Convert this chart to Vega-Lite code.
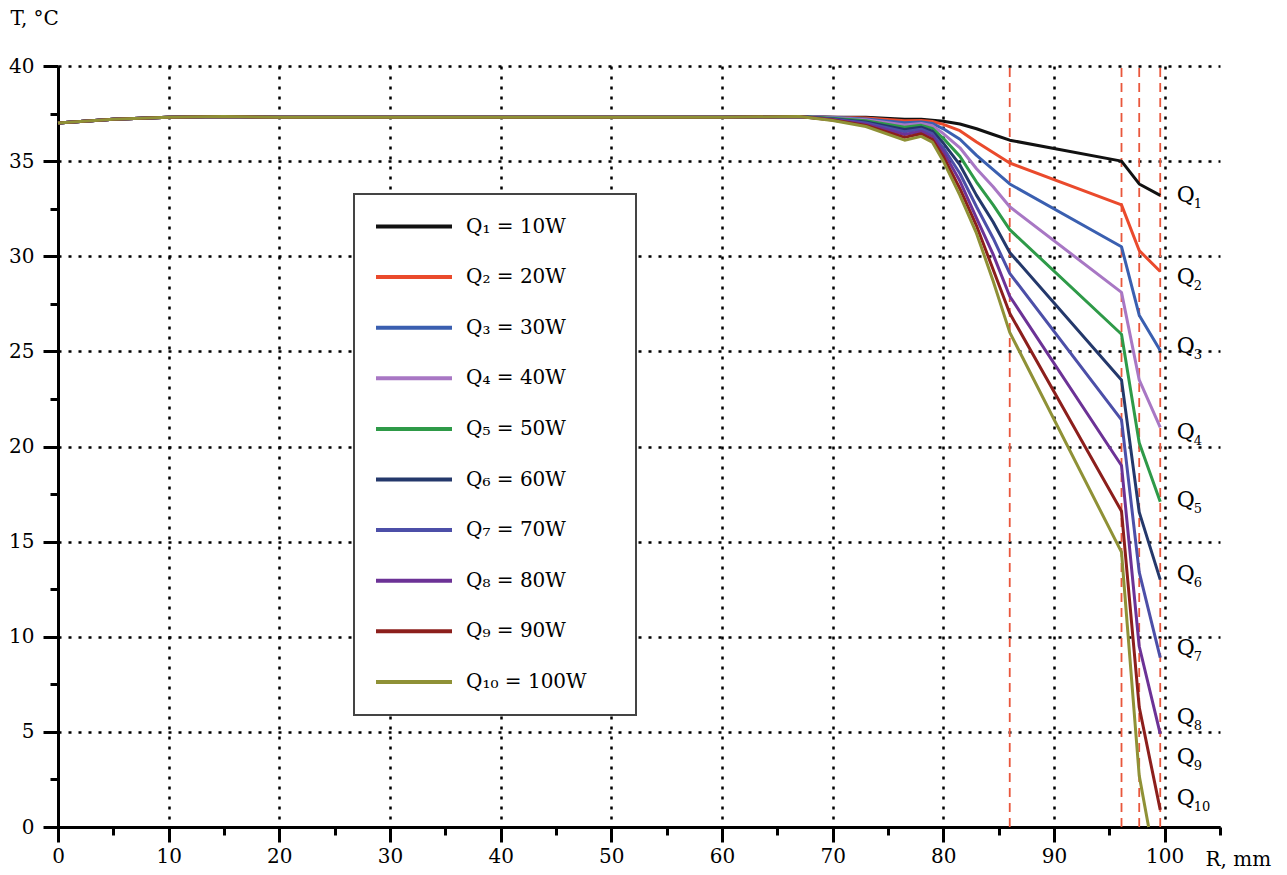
{
  "$schema": "https://vega.github.io/schema/vega-lite/v6.json",
  "width": 1162,
  "height": 761,
  "autosize": {"type": "none"},
  "padding": {"left": 58, "top": 66, "right": 67, "bottom": 48},
  "background": "white",
  "config": {"view": {"stroke": null}, "font": "DejaVu Serif"},
  "datasets": {
    "bounds": [{"r": 86}, {"r": 96.1}, {"r": 97.7}, {"r": 99.6}],
    "labels": [
      {"n": "1", "r": 101.1, "t": 33.2},
      {"n": "2", "r": 101.1, "t": 28.9},
      {"n": "3", "r": 101.1, "t": 25.3},
      {"n": "4", "r": 101.1, "t": 20.75},
      {"n": "5", "r": 101.1, "t": 17.2},
      {"n": "6", "r": 101.1, "t": 13.3},
      {"n": "7", "r": 101.1, "t": 9.4},
      {"n": "8", "r": 101.1, "t": 5.8},
      {"n": "9", "r": 101.1, "t": 3.7},
      {"n": "10", "r": 101.1, "t": 1.5}
    ],
    "curves": [
      {"q": "Q₁ = 10W", "r": 0, "t": 37.0}, {"q": "Q₁ = 10W", "r": 5, "t": 37.2}, {"q": "Q₁ = 10W", "r": 10, "t": 37.3}, {"q": "Q₁ = 10W", "r": 15, "t": 37.35}, {"q": "Q₁ = 10W", "r": 20, "t": 37.3}, {"q": "Q₁ = 10W", "r": 30, "t": 37.3}, {"q": "Q₁ = 10W", "r": 40, "t": 37.3}, {"q": "Q₁ = 10W", "r": 50, "t": 37.3}, {"q": "Q₁ = 10W", "r": 60, "t": 37.3}, {"q": "Q₁ = 10W", "r": 67, "t": 37.35},
      {"q": "Q₁ = 10W", "r": 70, "t": 37.3}, {"q": "Q₁ = 10W", "r": 73, "t": 37.3}, {"q": "Q₁ = 10W", "r": 76.5, "t": 37.2}, {"q": "Q₁ = 10W", "r": 78, "t": 37.2}, {"q": "Q₁ = 10W", "r": 79, "t": 37.15}, {"q": "Q₁ = 10W", "r": 80, "t": 37.1}, {"q": "Q₁ = 10W", "r": 81.5, "t": 36.95}, {"q": "Q₁ = 10W", "r": 83, "t": 36.7}, {"q": "Q₁ = 10W", "r": 84.5, "t": 36.4}, {"q": "Q₁ = 10W", "r": 86, "t": 36.1}, {"q": "Q₁ = 10W", "r": 96.1, "t": 35.0}, {"q": "Q₁ = 10W", "r": 97.7, "t": 33.8}, {"q": "Q₁ = 10W", "r": 99.6, "t": 33.2},

      {"q": "Q₂ = 20W", "r": 0, "t": 37.0}, {"q": "Q₂ = 20W", "r": 5, "t": 37.2}, {"q": "Q₂ = 20W", "r": 10, "t": 37.3}, {"q": "Q₂ = 20W", "r": 15, "t": 37.35}, {"q": "Q₂ = 20W", "r": 20, "t": 37.3}, {"q": "Q₂ = 20W", "r": 30, "t": 37.3}, {"q": "Q₂ = 20W", "r": 40, "t": 37.3}, {"q": "Q₂ = 20W", "r": 50, "t": 37.3}, {"q": "Q₂ = 20W", "r": 60, "t": 37.3}, {"q": "Q₂ = 20W", "r": 67, "t": 37.35},
      {"q": "Q₂ = 20W", "r": 70, "t": 37.3}, {"q": "Q₂ = 20W", "r": 73, "t": 37.27}, {"q": "Q₂ = 20W", "r": 76.5, "t": 37.12}, {"q": "Q₂ = 20W", "r": 78, "t": 37.14}, {"q": "Q₂ = 20W", "r": 79, "t": 37.08}, {"q": "Q₂ = 20W", "r": 80, "t": 36.93}, {"q": "Q₂ = 20W", "r": 81.5, "t": 36.6}, {"q": "Q₂ = 20W", "r": 83, "t": 36.0}, {"q": "Q₂ = 20W", "r": 84.5, "t": 35.45}, {"q": "Q₂ = 20W", "r": 86, "t": 34.9}, {"q": "Q₂ = 20W", "r": 96.1, "t": 32.7}, {"q": "Q₂ = 20W", "r": 97.7, "t": 30.3}, {"q": "Q₂ = 20W", "r": 99.6, "t": 29.2},

      {"q": "Q₃ = 30W", "r": 0, "t": 37.0}, {"q": "Q₃ = 30W", "r": 5, "t": 37.2}, {"q": "Q₃ = 30W", "r": 10, "t": 37.3}, {"q": "Q₃ = 30W", "r": 15, "t": 37.35}, {"q": "Q₃ = 30W", "r": 20, "t": 37.3}, {"q": "Q₃ = 30W", "r": 30, "t": 37.3}, {"q": "Q₃ = 30W", "r": 40, "t": 37.3}, {"q": "Q₃ = 30W", "r": 50, "t": 37.3}, {"q": "Q₃ = 30W", "r": 60, "t": 37.3}, {"q": "Q₃ = 30W", "r": 67, "t": 37.35},
      {"q": "Q₃ = 30W", "r": 70, "t": 37.3}, {"q": "Q₃ = 30W", "r": 73, "t": 37.22}, {"q": "Q₃ = 30W", "r": 76.5, "t": 37.02}, {"q": "Q₃ = 30W", "r": 78, "t": 37.06}, {"q": "Q₃ = 30W", "r": 79, "t": 36.98}, {"q": "Q₃ = 30W", "r": 80, "t": 36.7}, {"q": "Q₃ = 30W", "r": 81.5, "t": 36.15}, {"q": "Q₃ = 30W", "r": 83, "t": 35.3}, {"q": "Q₃ = 30W", "r": 84.5, "t": 34.55}, {"q": "Q₃ = 30W", "r": 86, "t": 33.8}, {"q": "Q₃ = 30W", "r": 96.1, "t": 30.5}, {"q": "Q₃ = 30W", "r": 97.7, "t": 26.9}, {"q": "Q₃ = 30W", "r": 99.6, "t": 25.05},

      {"q": "Q₄ = 40W", "r": 0, "t": 37.0}, {"q": "Q₄ = 40W", "r": 5, "t": 37.2}, {"q": "Q₄ = 40W", "r": 10, "t": 37.3}, {"q": "Q₄ = 40W", "r": 15, "t": 37.35}, {"q": "Q₄ = 40W", "r": 20, "t": 37.3}, {"q": "Q₄ = 40W", "r": 30, "t": 37.3}, {"q": "Q₄ = 40W", "r": 40, "t": 37.3}, {"q": "Q₄ = 40W", "r": 50, "t": 37.3}, {"q": "Q₄ = 40W", "r": 60, "t": 37.3}, {"q": "Q₄ = 40W", "r": 67, "t": 37.35},
      {"q": "Q₄ = 40W", "r": 70, "t": 37.28}, {"q": "Q₄ = 40W", "r": 73, "t": 37.17}, {"q": "Q₄ = 40W", "r": 76.5, "t": 36.9}, {"q": "Q₄ = 40W", "r": 78, "t": 36.98}, {"q": "Q₄ = 40W", "r": 79, "t": 36.86}, {"q": "Q₄ = 40W", "r": 80, "t": 36.45}, {"q": "Q₄ = 40W", "r": 81.5, "t": 35.7}, {"q": "Q₄ = 40W", "r": 83, "t": 34.6}, {"q": "Q₄ = 40W", "r": 84.5, "t": 33.65}, {"q": "Q₄ = 40W", "r": 86, "t": 32.6}, {"q": "Q₄ = 40W", "r": 96.1, "t": 28.1}, {"q": "Q₄ = 40W", "r": 97.7, "t": 23.5}, {"q": "Q₄ = 40W", "r": 99.6, "t": 21.0},

      {"q": "Q₅ = 50W", "r": 0, "t": 37.0}, {"q": "Q₅ = 50W", "r": 5, "t": 37.2}, {"q": "Q₅ = 50W", "r": 10, "t": 37.3}, {"q": "Q₅ = 50W", "r": 15, "t": 37.35}, {"q": "Q₅ = 50W", "r": 20, "t": 37.3}, {"q": "Q₅ = 50W", "r": 30, "t": 37.3}, {"q": "Q₅ = 50W", "r": 40, "t": 37.3}, {"q": "Q₅ = 50W", "r": 50, "t": 37.3}, {"q": "Q₅ = 50W", "r": 60, "t": 37.3}, {"q": "Q₅ = 50W", "r": 67, "t": 37.35},
      {"q": "Q₅ = 50W", "r": 70, "t": 37.25}, {"q": "Q₅ = 50W", "r": 73, "t": 37.12}, {"q": "Q₅ = 50W", "r": 76.5, "t": 36.78}, {"q": "Q₅ = 50W", "r": 78, "t": 36.88}, {"q": "Q₅ = 50W", "r": 79, "t": 36.72}, {"q": "Q₅ = 50W", "r": 80, "t": 36.2}, {"q": "Q₅ = 50W", "r": 81.5, "t": 35.25}, {"q": "Q₅ = 50W", "r": 83, "t": 33.9}, {"q": "Q₅ = 50W", "r": 84.5, "t": 32.7}, {"q": "Q₅ = 50W", "r": 86, "t": 31.4}, {"q": "Q₅ = 50W", "r": 96.1, "t": 25.9}, {"q": "Q₅ = 50W", "r": 97.7, "t": 20.2}, {"q": "Q₅ = 50W", "r": 99.6, "t": 17.1},

      {"q": "Q₆ = 60W", "r": 0, "t": 37.0}, {"q": "Q₆ = 60W", "r": 5, "t": 37.2}, {"q": "Q₆ = 60W", "r": 10, "t": 37.3}, {"q": "Q₆ = 60W", "r": 15, "t": 37.35}, {"q": "Q₆ = 60W", "r": 20, "t": 37.3}, {"q": "Q₆ = 60W", "r": 30, "t": 37.3}, {"q": "Q₆ = 60W", "r": 40, "t": 37.3}, {"q": "Q₆ = 60W", "r": 50, "t": 37.3}, {"q": "Q₆ = 60W", "r": 60, "t": 37.3}, {"q": "Q₆ = 60W", "r": 67, "t": 37.35},
      {"q": "Q₆ = 60W", "r": 70, "t": 37.22}, {"q": "Q₆ = 60W", "r": 73, "t": 37.06}, {"q": "Q₆ = 60W", "r": 76.5, "t": 36.66}, {"q": "Q₆ = 60W", "r": 78, "t": 36.78}, {"q": "Q₆ = 60W", "r": 79, "t": 36.58}, {"q": "Q₆ = 60W", "r": 80, "t": 35.95}, {"q": "Q₆ = 60W", "r": 81.5, "t": 34.8}, {"q": "Q₆ = 60W", "r": 83, "t": 33.2}, {"q": "Q₆ = 60W", "r": 84.5, "t": 31.8}, {"q": "Q₆ = 60W", "r": 86, "t": 30.2}, {"q": "Q₆ = 60W", "r": 96.1, "t": 23.5}, {"q": "Q₆ = 60W", "r": 97.7, "t": 16.55}, {"q": "Q₆ = 60W", "r": 99.6, "t": 13.0},

      {"q": "Q₇ = 70W", "r": 0, "t": 37.0}, {"q": "Q₇ = 70W", "r": 5, "t": 37.2}, {"q": "Q₇ = 70W", "r": 10, "t": 37.3}, {"q": "Q₇ = 70W", "r": 15, "t": 37.35}, {"q": "Q₇ = 70W", "r": 20, "t": 37.3}, {"q": "Q₇ = 70W", "r": 30, "t": 37.3}, {"q": "Q₇ = 70W", "r": 40, "t": 37.3}, {"q": "Q₇ = 70W", "r": 50, "t": 37.3}, {"q": "Q₇ = 70W", "r": 60, "t": 37.3}, {"q": "Q₇ = 70W", "r": 67, "t": 37.35},
      {"q": "Q₇ = 70W", "r": 70, "t": 37.2}, {"q": "Q₇ = 70W", "r": 73, "t": 37.0}, {"q": "Q₇ = 70W", "r": 76.5, "t": 36.54}, {"q": "Q₇ = 70W", "r": 78, "t": 36.68}, {"q": "Q₇ = 70W", "r": 79, "t": 36.44}, {"q": "Q₇ = 70W", "r": 80, "t": 35.7}, {"q": "Q₇ = 70W", "r": 81.5, "t": 34.35}, {"q": "Q₇ = 70W", "r": 83, "t": 32.6}, {"q": "Q₇ = 70W", "r": 84.5, "t": 30.95}, {"q": "Q₇ = 70W", "r": 86, "t": 29.1}, {"q": "Q₇ = 70W", "r": 96.1, "t": 21.4}, {"q": "Q₇ = 70W", "r": 97.7, "t": 13.4}, {"q": "Q₇ = 70W", "r": 99.6, "t": 8.9},

      {"q": "Q₈ = 80W", "r": 0, "t": 37.0}, {"q": "Q₈ = 80W", "r": 5, "t": 37.2}, {"q": "Q₈ = 80W", "r": 10, "t": 37.3}, {"q": "Q₈ = 80W", "r": 15, "t": 37.35}, {"q": "Q₈ = 80W", "r": 20, "t": 37.3}, {"q": "Q₈ = 80W", "r": 30, "t": 37.3}, {"q": "Q₈ = 80W", "r": 40, "t": 37.3}, {"q": "Q₈ = 80W", "r": 50, "t": 37.3}, {"q": "Q₈ = 80W", "r": 60, "t": 37.3}, {"q": "Q₈ = 80W", "r": 67, "t": 37.35},
      {"q": "Q₈ = 80W", "r": 70, "t": 37.18}, {"q": "Q₈ = 80W", "r": 73, "t": 36.94}, {"q": "Q₈ = 80W", "r": 76.5, "t": 36.4}, {"q": "Q₈ = 80W", "r": 78, "t": 36.56}, {"q": "Q₈ = 80W", "r": 79, "t": 36.3}, {"q": "Q₈ = 80W", "r": 80, "t": 35.5}, {"q": "Q₈ = 80W", "r": 81.5, "t": 33.95}, {"q": "Q₈ = 80W", "r": 83, "t": 32.0}, {"q": "Q₈ = 80W", "r": 84.5, "t": 30.1}, {"q": "Q₈ = 80W", "r": 86, "t": 27.9}, {"q": "Q₈ = 80W", "r": 96.1, "t": 19.0}, {"q": "Q₈ = 80W", "r": 97.7, "t": 9.5}, {"q": "Q₈ = 80W", "r": 99.6, "t": 4.9},

      {"q": "Q₉ = 90W", "r": 0, "t": 37.0}, {"q": "Q₉ = 90W", "r": 5, "t": 37.2}, {"q": "Q₉ = 90W", "r": 10, "t": 37.3}, {"q": "Q₉ = 90W", "r": 15, "t": 37.35}, {"q": "Q₉ = 90W", "r": 20, "t": 37.3}, {"q": "Q₉ = 90W", "r": 30, "t": 37.3}, {"q": "Q₉ = 90W", "r": 40, "t": 37.3}, {"q": "Q₉ = 90W", "r": 50, "t": 37.3}, {"q": "Q₉ = 90W", "r": 60, "t": 37.3}, {"q": "Q₉ = 90W", "r": 67, "t": 37.35},
      {"q": "Q₉ = 90W", "r": 70, "t": 37.16}, {"q": "Q₉ = 90W", "r": 73, "t": 36.88}, {"q": "Q₉ = 90W", "r": 76.5, "t": 36.25}, {"q": "Q₉ = 90W", "r": 78, "t": 36.44}, {"q": "Q₉ = 90W", "r": 79, "t": 36.15}, {"q": "Q₉ = 90W", "r": 80, "t": 35.25}, {"q": "Q₉ = 90W", "r": 81.5, "t": 33.55}, {"q": "Q₉ = 90W", "r": 83, "t": 31.6}, {"q": "Q₉ = 90W", "r": 84.5, "t": 29.3}, {"q": "Q₉ = 90W", "r": 86, "t": 27.0}, {"q": "Q₉ = 90W", "r": 96.1, "t": 16.6}, {"q": "Q₉ = 90W", "r": 97.7, "t": 6.3}, {"q": "Q₉ = 90W", "r": 99.6, "t": 0.9},

      {"q": "Q₁₀ = 100W", "r": 0, "t": 37.0}, {"q": "Q₁₀ = 100W", "r": 5, "t": 37.2}, {"q": "Q₁₀ = 100W", "r": 10, "t": 37.3}, {"q": "Q₁₀ = 100W", "r": 15, "t": 37.35}, {"q": "Q₁₀ = 100W", "r": 20, "t": 37.3}, {"q": "Q₁₀ = 100W", "r": 30, "t": 37.3}, {"q": "Q₁₀ = 100W", "r": 40, "t": 37.3}, {"q": "Q₁₀ = 100W", "r": 50, "t": 37.3}, {"q": "Q₁₀ = 100W", "r": 60, "t": 37.3}, {"q": "Q₁₀ = 100W", "r": 67, "t": 37.35},
      {"q": "Q₁₀ = 100W", "r": 70, "t": 37.14}, {"q": "Q₁₀ = 100W", "r": 73, "t": 36.82}, {"q": "Q₁₀ = 100W", "r": 76.5, "t": 36.1}, {"q": "Q₁₀ = 100W", "r": 78, "t": 36.3}, {"q": "Q₁₀ = 100W", "r": 79, "t": 36.0}, {"q": "Q₁₀ = 100W", "r": 80, "t": 35.0}, {"q": "Q₁₀ = 100W", "r": 81.5, "t": 33.2}, {"q": "Q₁₀ = 100W", "r": 83, "t": 31.2}, {"q": "Q₁₀ = 100W", "r": 84.5, "t": 28.7}, {"q": "Q₁₀ = 100W", "r": 86, "t": 26.0}, {"q": "Q₁₀ = 100W", "r": 96.1, "t": 14.45}, {"q": "Q₁₀ = 100W", "r": 97.7, "t": 2.7}, {"q": "Q₁₀ = 100W", "r": 98.55, "t": 0.0}
    ]
  },
  "layer": [
    {
      "data": {"name": "bounds"},
      "mark": {"type": "rule", "color": "#e9573c", "strokeWidth": 1.8, "strokeDash": [9, 6]},
      "encoding": {
        "x": {
          "field": "r", "type": "quantitative",
          "scale": {"domain": [0, 105], "nice": false, "zero": false},
          "axis": {"orient": "bottom", "values": [5, 15, 25, 35, 45, 55, 65, 75, 85, 95, 105], "tickSize": 8, "tickWidth": 3, "tickColor": "black", "labels": false, "domain": false, "grid": false, "title": null}
        },
        "y": {
          "datum": 0, "type": "quantitative",
          "scale": {"domain": [0, 40], "nice": false},
          "axis": {"orient": "left", "values": [2.5, 7.5, 12.5, 17.5, 22.5, 27.5, 32.5, 37.5], "tickSize": 8, "tickWidth": 3, "tickColor": "black", "labels": false, "domain": false, "grid": false, "title": null}
        },
        "y2": {"datum": 40}
      }
    },
    {
      "data": {"name": "curves"},
      "mark": {"type": "line", "strokeWidth": 3, "strokeJoin": "round"},
      "encoding": {
        "x": {
          "field": "r", "type": "quantitative",
          "axis": {
            "orient": "bottom",
            "values": [0, 10, 20, 30, 40, 50, 60, 70, 80, 90, 100],
            "grid": true, "gridColor": "black", "gridDash": [3, 7], "gridWidth": 2.5, "gridOpacity": 1,
            "domainColor": "black", "domainWidth": 3, "tickColor": "black", "tickWidth": 3, "tickSize": 15,
            "labelFont": "DejaVu Serif", "labelFontSize": 20, "labelColor": "black", "labelPadding": 4, "labelFlush": false, "labelOverlap": false,
            "title": "R, mm", "titleX": 1147, "titleY": 32, "titleAlign": "left", "titleBaseline": "middle", "titleAngle": 0,
            "titleFont": "DejaVu Serif", "titleFontSize": 20, "titleFontWeight": "normal", "titleColor": "black"
          }
        },
        "y": {
          "field": "t", "type": "quantitative",
          "axis": {
            "orient": "left",
            "values": [0, 5, 10, 15, 20, 25, 30, 35, 40],
            "grid": true, "gridColor": "black", "gridDash": [3, 7], "gridWidth": 2.5, "gridOpacity": 1,
            "domainColor": "black", "domainWidth": 3, "tickColor": "black", "tickWidth": 3, "tickSize": 15,
            "labelFont": "DejaVu Serif", "labelFontSize": 20, "labelColor": "black", "labelPadding": 9, "labelFlush": false, "labelOverlap": false,
            "title": "T, °C", "titleX": -48, "titleY": -48, "titleAlign": "left", "titleBaseline": "middle", "titleAngle": 0,
            "titleFont": "DejaVu Serif", "titleFontSize": 20, "titleFontWeight": "normal", "titleColor": "black"
          }
        },
        "color": {
          "field": "q", "type": "nominal",
          "scale": {
            "domain": ["Q₁ = 10W", "Q₂ = 20W", "Q₃ = 30W", "Q₄ = 40W", "Q₅ = 50W", "Q₆ = 60W", "Q₇ = 70W", "Q₈ = 80W", "Q₉ = 90W", "Q₁₀ = 100W"],
            "range": ["#111111", "#ea4a2c", "#3a5fb0", "#a877c4", "#2e9a48", "#24386b", "#4c4fa8", "#6c3296", "#8c1f1c", "#8f9136"]
          },
          "legend": {
            "orient": "none", "legendX": 296, "legendY": 128, "title": null,
            "symbolType": "stroke", "symbolSize": 5776, "symbolStrokeWidth": 4,
            "clipHeight": 25,
            "labelFont": "DejaVu Serif", "labelFontSize": 20, "labelColor": "black", "labelOffset": 12, "labelLimit": 400,
            "labelExpr": "datum.label + '\u2800\u2800'",
            "rowPadding": 25.6, "padding": 20,
            "strokeColor": "#444444", "fillColor": "white",
            "encode": {"legend": {"update": {"strokeWidth": {"value": 2}}}}
          }
        }
      }
    },
    {
      "data": {"name": "labels"},
      "mark": {"type": "text", "text": "Q", "align": "left", "baseline": "middle", "font": "DejaVu Serif", "fontSize": 22, "color": "black"},
      "encoding": {
        "x": {"field": "r", "type": "quantitative", "axis": null},
        "y": {"field": "t", "type": "quantitative", "axis": null}
      }
    },
    {
      "data": {"name": "labels"},
      "mark": {"type": "text", "align": "left", "baseline": "middle", "dx": 17, "dy": 9, "font": "DejaVu Serif", "fontSize": 13, "color": "black"},
      "encoding": {
        "x": {"field": "r", "type": "quantitative", "axis": null},
        "y": {"field": "t", "type": "quantitative", "axis": null},
        "text": {"field": "n"}
      }
    }
  ],
  "resolve": {"axis": {"x": "independent", "y": "independent"}}
}
